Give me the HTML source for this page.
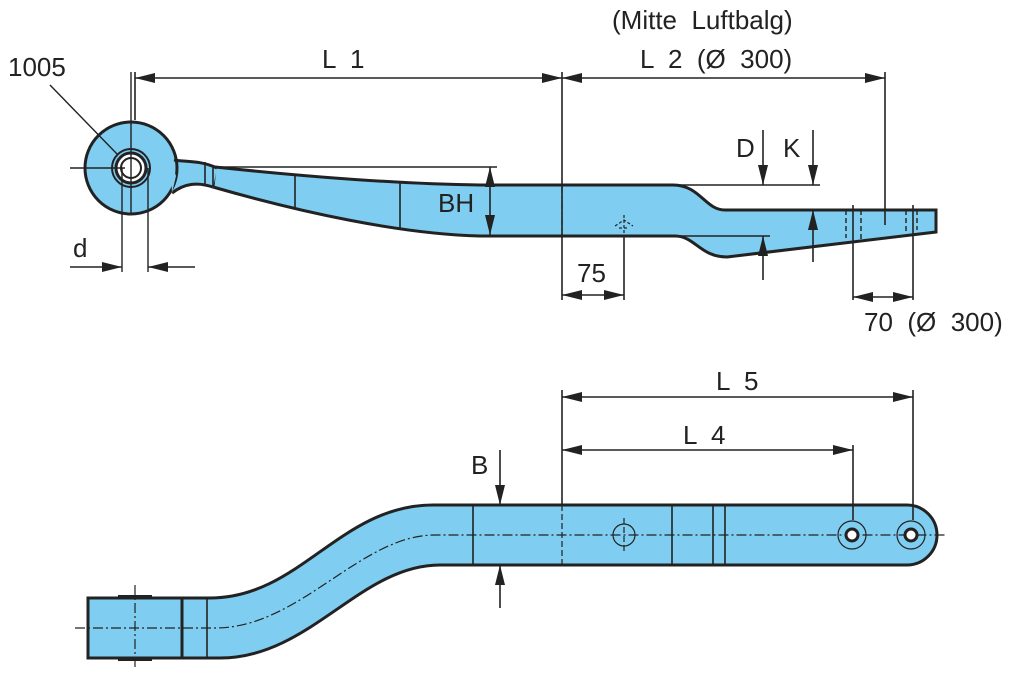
<!DOCTYPE html>
<html><head><meta charset="utf-8"><style>
html,body{margin:0;padding:0;background:#fff}
svg{display:block}
text{font-family:"Liberation Sans",sans-serif;font-size:26px;fill:#222;white-space:pre}
</style></head><body>
<svg width="1024" height="679" viewBox="0 0 1024 679" xmlns="http://www.w3.org/2000/svg" xml:space="preserve">
<defs>
<marker id="a" viewBox="0 0 20 10" refX="20" refY="5" markerWidth="20" markerHeight="10" markerUnits="userSpaceOnUse" orient="auto-start-reverse"><path d="M0,0 L20,5 L0,10 z" fill="#222"/></marker>
</defs>
<g stroke="#222" fill="none" stroke-width="1.6">
<path d="M215,167 C300,176 400,184 480,185 L673,185 C700,185 705,210 725,210 L936,210 L936,232 L727,257 C700,257 695,236 675,236 L480,236 C400,234 300,212 213,187 Z" fill="#7fcdf0" stroke-width="3"/>
<path d="M170,158 C185,163 200,160 217,168 L213,188 C200,185 190,180 172,193 Z" fill="#7fcdf0" stroke="none"/>
<circle cx="131" cy="168" r="46" fill="#7fcdf0" stroke-width="3"/>
<path d="M174,160 C185,162 200,160 217,168 M172,193 C185,183 198,182 213,187" stroke-width="3"/>
<path d="M170,158 L176,176 L172,193" fill="#7fcdf0" stroke="none"/>
<circle cx="131" cy="168" r="19" fill="#7fcdf0" stroke-width="2"/>
<circle cx="131" cy="168" r="15" fill="#fff" stroke-width="3"/>
<circle cx="131" cy="168" r="10" fill="#fff" stroke-width="2"/>
<path d="M205,162 V184 M213,165 V187 M295,174 V208 M400,181 V228"/>
<path d="M131,72 V215 M122,168 V272 M148,168 V272 M70,168 H125" stroke-width="1.4"/>
<path d="M50,85 L118,155" stroke-width="1.4"/>
<path d="M135,72 V120 M562,72 V300 M885,72 V225"/>
<path d="M135,78 H562" marker-start="url(#a)" marker-end="url(#a)"/>
<path d="M562,78 H885" marker-start="url(#a)" marker-end="url(#a)"/>
<path d="M215,167 H497"/>
<path d="M490,167 V235" marker-start="url(#a)" marker-end="url(#a)"/>
<path d="M70,267 H122" marker-end="url(#a)"/>
<path d="M195,267 H148" marker-end="url(#a)"/>
<path d="M624,235 V300"/>
<path d="M562,295 H624" marker-start="url(#a)" marker-end="url(#a)"/>
<path d="M624,215 V235 M615,226 L624,220 L633,226 M619,228 H629" stroke-dasharray="3,2" stroke-width="1.2"/>
<path d="M675,185 H820 M675,236 H770"/>
<path d="M763,130 V185" marker-end="url(#a)"/>
<path d="M763,280 V236" marker-end="url(#a)"/>
<path d="M813,130 V185" marker-end="url(#a)"/>
<path d="M813,262 V210" marker-end="url(#a)"/>
<path d="M853,205 V300 M913,205 V300"/>
<path d="M853,297 H913" marker-start="url(#a)" marker-end="url(#a)"/>
<path d="M846,210 V238 M861,210 V240 M906,210 V232 M917,210 V230" stroke-dasharray="5,3" stroke-width="1.4"/>
<path d="M562,185 V236" stroke-dasharray="8,3,2,3" stroke-width="1.2"/>
<path d="M182,598 L210,598 C300,598 340,505 433,505 L907,505 A30,30 0 0 1 907,565 L440,565 C360,565 310,658 220,658 L182,658 Z" fill="#7fcdf0" stroke-width="3"/>
<rect x="88" y="598" width="94" height="60" fill="#7fcdf0" stroke-width="3"/>
<path d="M118,597 H152 M118,659 H152" stroke-width="4"/>
<path d="M207,598 V658 M473,505 V565 M672,505 V565 M713,505 V565 M725,505 V565"/>
<path d="M75,628 H215 C300,628 360,535 435,535 H945 M135,585 V670" stroke-dasharray="10,3,2,3" stroke-width="1.2"/>
<circle cx="624" cy="535" r="11" stroke-width="1.2"/>
<path d="M624,518 V552 M562,505 V565" stroke-dasharray="6,3" stroke-width="1.2"/>
<circle cx="852" cy="535" r="14" stroke-width="1.2"/>
<circle cx="852" cy="535" r="6" fill="#fff" stroke-width="3"/>
<circle cx="911" cy="535" r="14" stroke-width="1.2"/>
<circle cx="911" cy="535" r="6" fill="#fff" stroke-width="3"/>
<path d="M562,390 V505 M853,445 V520 M913,390 V520"/>
<path d="M562,397 H913" marker-start="url(#a)" marker-end="url(#a)"/>
<path d="M562,450 H853" marker-start="url(#a)" marker-end="url(#a)"/>
<path d="M500,450 V505" marker-end="url(#a)"/>
<path d="M500,608 V565" marker-end="url(#a)"/>
</g>
<text x="8" y="76">1005</text>
<text x="322" y="68">L  1</text>
<text x="612" y="29">(Mitte  Luftbalg)</text>
<text x="640" y="68">L  2  (Ø  300)</text>
<text x="438" y="212">BH</text>
<text x="73" y="257">d</text>
<text x="577" y="282">75</text>
<text x="736" y="157">D</text>
<text x="783" y="157">K</text>
<text x="864" y="331">70  (Ø  300)</text>
<text x="716" y="390">L  5</text>
<text x="683" y="444">L  4</text>
<text x="471" y="474">B</text>
</svg>
</body></html>
